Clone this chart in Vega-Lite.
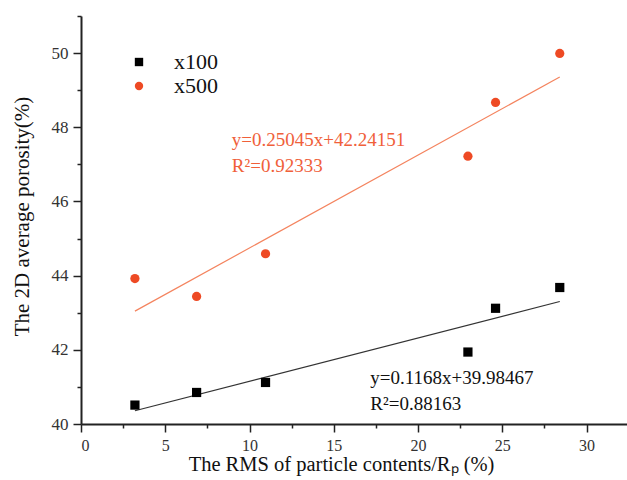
{
  "$schema": "https://vega.github.io/schema/vega-lite/v6.json",
  "width": 546,
  "height": 408,
  "autosize": {"type": "none"},
  "padding": {"left": 81, "top": 16, "right": 0, "bottom": 56},
  "background": "white",
  "config": {
    "view": {"stroke": null},
    "font": "Liberation Serif",
    "axis": {"labelFont": "Liberation Serif", "titleFont": "Liberation Serif"},
    "legend": {"labelFont": "Liberation Serif"},
    "text": {"font": "Liberation Serif"}
  },
  "datasets": {
    "points": [
      {"series": "x100", "x": 3.2, "y": 40.51},
      {"series": "x100", "x": 6.86, "y": 40.85},
      {"series": "x100", "x": 10.95, "y": 41.12},
      {"series": "x100", "x": 22.96, "y": 41.94},
      {"series": "x100", "x": 24.6, "y": 43.12},
      {"series": "x100", "x": 28.41, "y": 43.68},
      {"series": "x500", "x": 3.2, "y": 43.92},
      {"series": "x500", "x": 6.86, "y": 43.44},
      {"series": "x500", "x": 10.95, "y": 44.59},
      {"series": "x500", "x": 22.96, "y": 47.22},
      {"series": "x500", "x": 24.6, "y": 48.67},
      {"series": "x500", "x": 28.41, "y": 49.99}
    ],
    "fit": [
      {"series": "x100", "x": 3.2, "y": 40.358},
      {"series": "x100", "x": 28.41, "y": 43.303},
      {"series": "x500", "x": 3.2, "y": 43.043},
      {"series": "x500", "x": 28.41, "y": 49.357}
    ],
    "notes": [
      {"series": "x500", "x": 8.95, "y": 47.49, "label": "y=0.25045x+42.24151\nR²=0.92333"},
      {"series": "x100", "x": 17.17, "y": 41.08, "label": "y=0.1168x+39.98467\nR²=0.88163"}
    ]
  },
  "encoding": {
    "x": {
      "field": "x",
      "type": "quantitative",
      "scale": {"domain": [0, 32.4], "nice": false, "zero": false},
      "axis": {
        "values": [0, 2.5, 5, 7.5, 10, 12.5, 15, 17.5, 20, 22.5, 25, 27.5, 30],
        "format": "d",
        "labelExpr": "datum.value % 5 === 0 ? datum.label : ''",
        "tickSize": {"condition": {"test": "datum.value % 5 === 0", "value": 8}, "value": 4},
        "grid": false,
        "domainColor": "#222222",
        "domainWidth": 2,
        "tickColor": "#222222",
        "tickWidth": 1.5,
        "labelFont": "Liberation Serif",
        "labelFontSize": 16,
        "labelColor": "#333333",
        "labelPadding": 5,
        "title": "The RMS of particle contents/Rₚ (%)",
        "titleFont": "Liberation Serif",
        "titleFontSize": 20.5,
        "titleFontWeight": "normal",
        "titleColor": "#111111",
        "titleBaseline": "alphabetic",
        "titleAlign": "center",
        "titleX": 260,
        "titleY": 46
      }
    },
    "y": {
      "field": "y",
      "type": "quantitative",
      "scale": {"domain": [40, 51], "nice": false, "zero": false},
      "axis": {
        "values": [40, 41, 42, 43, 44, 45, 46, 47, 48, 49, 50, 51],
        "labelExpr": "datum.value % 2 === 0 && datum.value < 51 ? datum.label : ''",
        "tickSize": {"condition": {"test": "datum.value % 2 === 0", "value": 8}, "value": 4},
        "grid": false,
        "domainColor": "#222222",
        "domainWidth": 2,
        "tickColor": "#222222",
        "tickWidth": 1.5,
        "labelFont": "Liberation Serif",
        "labelFontSize": 17,
        "labelColor": "#333333",
        "labelPadding": 5,
        "title": "The 2D average porosity(%)",
        "titleFont": "Liberation Serif",
        "titleFontSize": 21,
        "titleFontWeight": "normal",
        "titleColor": "#111111",
        "titleAngle": -90,
        "titleBaseline": "alphabetic",
        "titleAlign": "center",
        "titleX": -53,
        "titleY": 200
      }
    }
  },
  "layer": [
    {
      "data": {"name": "fit"},
      "mark": {"type": "line", "strokeWidth": 1.2},
      "encoding": {
        "detail": {"field": "series", "type": "nominal"},
        "color": {"condition": {"test": "datum.series === 'x100'", "value": "#333333"}, "value": "#F4845F"}
      }
    },
    {
      "data": {"name": "points"},
      "mark": {"type": "point", "filled": true, "size": 85, "opacity": 1},
      "encoding": {
        "shape": {"field": "series", "type": "nominal", "scale": {"domain": ["x100", "x500"], "range": ["square", "circle"]}},
        "color": {
          "field": "series",
          "type": "nominal",
          "scale": {"domain": ["x100", "x500"], "range": ["#000000", "#EE4A24"]},
          "legend": {
            "orient": "none",
            "legendX": 47,
            "legendY": 35,
            "title": null,
            "padding": 0,
            "symbolSize": 70,
            "labelFont": "Liberation Serif",
            "labelFontSize": 22,
            "labelColor": "#111111",
            "labelOffset": 24,
            "rowPadding": 2
          }
        }
      }
    },
    {
      "data": {"name": "notes"},
      "mark": {"type": "text", "align": "left", "baseline": "alphabetic", "font": "Liberation Serif", "fontSize": 19, "lineHeight": 26, "lineBreak": "\n"},
      "encoding": {
        "text": {"field": "label", "type": "nominal"},
        "color": {"condition": {"test": "datum.series === 'x100'", "value": "#111111"}, "value": "#F0603A"}
      }
    }
  ]
}
